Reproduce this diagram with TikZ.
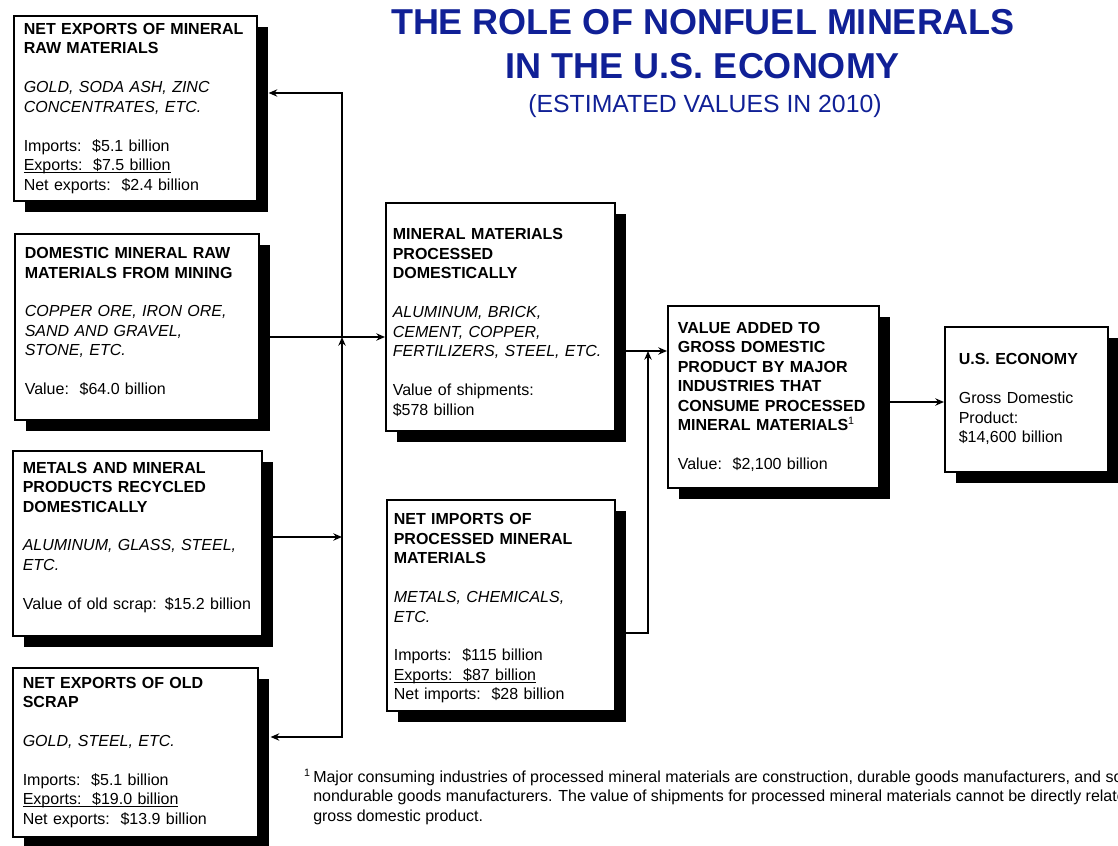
\documentclass[tikz,border=0pt]{standalone}
\usepackage{fontspec}
\setmainfont{Liberation Sans}
\usepackage{xcolor}
\usetikzlibrary{arrows.meta,shadows,calc}

\definecolor{titleblue}{RGB}{16,32,150}
\newcommand{\boxfont}{\fontsize{12}{14.6}\selectfont}
\newcommand{\titlefont}{\fontsize{27}{33}\selectfont\bfseries}
\newcommand{\subtitlefont}{\fontsize{18.6}{22}\selectfont}
\newcommand{\notefont}{\fontsize{12}{14.6}\selectfont}
\newcommand{\skipline}{\\[14.6pt]}
\newcommand{\lowpad}[1]{\rule[-#1]{0pt}{#1}}
\newcommand{\toppad}[1]{\rule{0pt}{#1}}
\newcommand{\uline}[1]{\underline{\smash{#1}}}

\begin{document}
\begin{tikzpicture}[
    x=0.75pt,y=-0.75pt,
    panel/.style={draw,line width=1.2pt,fill=white,anchor=north west,
                  align=left,font=\boxfont,inner xsep=7.5pt,inner ysep=0pt,
                  drop shadow={shadow xshift=8.5pt,shadow yshift=-8.5pt,
                               fill=black,opacity=1}},
    arr/.style={line width=1.6pt,-{Stealth[length=6.5pt,width=5.5pt]}}
  ]
  \useasboundingbox (0,0) rectangle (1118,846);

  % title
  \node[anchor=north,inner sep=0pt,align=center,text=titleblue,font=\titlefont]
        (title) at (703,9) {THE ROLE OF NONFUEL MINERALS\\IN THE U.S. ECONOMY};
  \node[anchor=base,inner sep=0pt,text=titleblue,font=\subtitlefont]
        (subtitle) at (705,112) {(ESTIMATED VALUES IN 2010)};

  % left column
  \node[panel,text width=167.25pt,minimum height=138.75pt] (rawexp) at (13,15)
        {{\bfseries NET EXPORTS OF MINERAL\\RAW MATERIALS}\skipline
         {\itshape GOLD, SODA ASH, ZINC\\CONCENTRATES, ETC.}\skipline
         Imports:~~\$5.1 billion\\
         \uline{Exports:~~\$7.5 billion}\\
         Net exports:~~\$2.4 billion};
  \node[panel,text width=168pt,minimum height=139.5pt] (mining) at (14,233)
        {{\bfseries DOMESTIC MINERAL RAW\\MATERIALS FROM MINING}\skipline
         {\itshape COPPER ORE, IRON ORE,\\SAND AND GRAVEL,\\STONE, ETC.}\skipline
         Value:~~\$64.0 billion\lowpad{8.5pt}};
  \node[panel,text width=171.75pt,minimum height=138.75pt] (recycled) at (12,450)
        {{\bfseries METALS AND MINERAL\\PRODUCTS RECYCLED\\DOMESTICALLY}\skipline
         {\itshape ALUMINUM, GLASS, STEEL,\\ETC.}\skipline
         Value of old scrap: \$15.2 billion\lowpad{11.5pt}};
  \node[panel,text width=168.75pt,minimum height=126.75pt] (scrapexp) at (12,667)
        {{\bfseries NET EXPORTS OF OLD\\SCRAP}\skipline
         {\itshape GOLD, STEEL, ETC.}\skipline
         Imports:~~\$5.1 billion\\
         \uline{Exports:~~\$19.0 billion}\\
         Net exports:~~\$13.9 billion};

  % middle column
  \node[panel,inner xsep=5.25pt,text width=161.25pt,minimum height=171pt] (processed) at (385,202)
        {{\bfseries\toppad{16.8pt}MINERAL MATERIALS\\PROCESSED\\DOMESTICALLY}\skipline
         {\itshape ALUMINUM, BRICK,\\CEMENT, COPPER,\\FERTILIZERS, STEEL, ETC.}\skipline
         Value of shipments:\\\$578 billion};
  \node[panel,inner xsep=5.25pt,text width=160.5pt,minimum height=158.25pt] (procimp) at (386,499)
        {{\bfseries\toppad{13pt}NET IMPORTS OF\\PROCESSED MINERAL\\MATERIALS}\skipline
         {\itshape METALS, CHEMICALS,\\ETC.}\skipline
         Imports:~~\$115 billion\\
         \uline{Exports:~~\$87 billion}\\
         Net imports:~~\$28 billion};

  % right
  \node[panel,text width=143.25pt,minimum height=136.5pt] (valueadded) at (667,305)
        {{\bfseries VALUE ADDED TO\\GROSS DOMESTIC\\PRODUCT BY MAJOR\\INDUSTRIES THAT\\CONSUME PROCESSED\\MINERAL MATERIALS\textsuperscript{\mdseries 1}}\skipline
         Value:~~\$2,100 billion};
  \node[panel,inner xsep=10.5pt,text width=101.25pt,minimum height=108.75pt] (economy) at (944,326)
        {{\bfseries U.S. ECONOMY}\skipline
         Gross Domestic\\Product:\\\$14,600 billion};

  % footnote
  \node[anchor=north west,inner sep=0pt,align=left,font=\notefont] (note) at (313,769)
        {\llap{\textsuperscript{1}\,}Major consuming industries of processed mineral materials are construction, durable goods manufacturers, and some\\
         nondurable goods manufacturers. The value of shipments for processed mineral materials cannot be directly related to\\
         gross domestic product.};

  % connectors
  \coordinate (jA) at (342,93);
  \coordinate (jB) at (342,337);
  \coordinate (jC) at (342,537);
  \coordinate (jD) at (342,737);
  \coordinate (jG) at (648,351);
  \coordinate (jF) at (648,633);

  \draw[arr] (mining.east |- jB) -- (processed.west |- jB);
  \draw[arr] (recycled.east |- jC) -- (jC);
  \draw[arr] (jC) -- (jB);
  \draw[arr] (jB) -- (jA) -- ($(rawexp.east |- jA)+(11,0)$);
  \draw[arr] (jC) -- (jD) -- ($(scrapexp.east |- jD)+(12,0)$);
  \draw[arr] (processed.east |- jG) -- (valueadded.west |- jG);
  \draw[arr] (procimp.east |- jF) -- (jF) -- (jG);
  \draw[arr] (valueadded.east |- 0,402) -- (economy.west |- 0,402);
\end{tikzpicture}
\end{document}
